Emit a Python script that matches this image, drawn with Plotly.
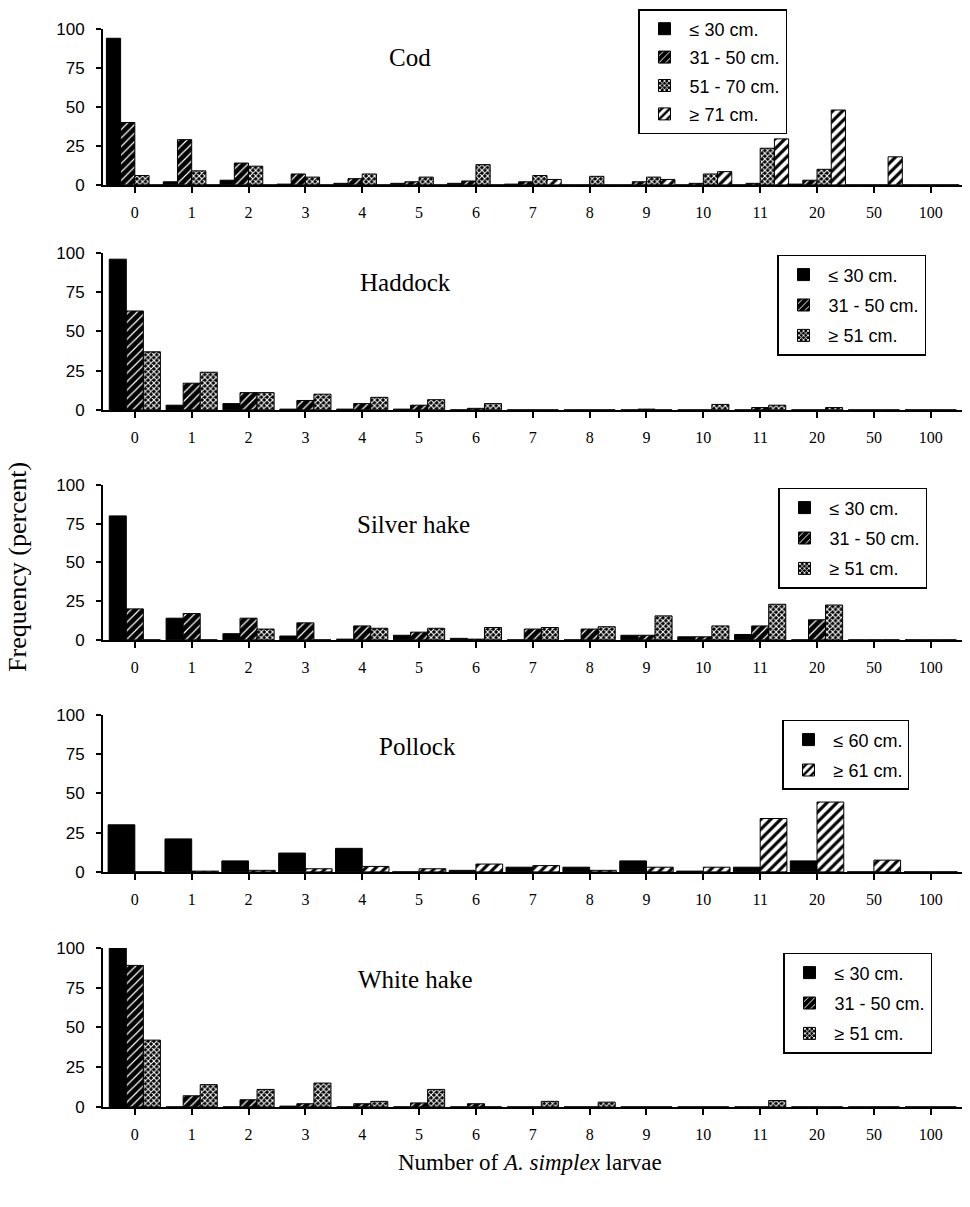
import plotly.graph_objects as go

categories = ["0", "1", "2", "3", "4", "5", "6", "7", "8", "9", "10", "11", "20", "50", "100"]

# Cod
cod_le30 = [94, 2, 3, 0.5, 1, 1, 1, 0.5, 0, 0, 0, 0, 0.5, 0, 0]
cod_31_50 = [40, 29, 14, 7, 4, 2, 2.5, 2, 0, 2, 1, 1, 3, 0, 0]
cod_51_70 = [6, 9, 12, 5, 7, 5, 13, 6, 5.5, 5, 7, 23.5, 10, 0, 0]
cod_ge71 = [0, 0, 0, 0, 0, 0, 0, 3.5, 0, 3.5, 8.5, 29.5, 48, 18, 0]

# Haddock
had_le30 = [96, 3, 4, 0.5, 0.5, 0.5, 0, 0, 0, 0, 0, 0, 0, 0, 0]
had_31_50 = [63, 17, 11, 6, 4, 3, 1, 0, 0, 0.5, 0, 1.5, 0, 0, 0]
had_ge51 = [37, 24, 11, 10, 8, 6.5, 4, 0, 0, 0, 3.5, 3, 1.5, 0, 0]

# Silver hake
sil_le30 = [80, 14, 4, 2.5, 0.5, 3, 1, 0, 0, 3, 2, 3.5, 0, 0, 0]
sil_31_50 = [20, 17, 14, 11, 9, 5, 0.5, 7, 7, 3, 2, 9, 13, 0, 0]
sil_ge51 = [0, 0, 7, 0, 7.5, 7.5, 8, 8, 8.5, 15.5, 9, 23, 22.5, 0, 0]

# Pollock
pol_le60 = [30, 21, 7, 12, 15, 0, 1, 3, 3, 7, 0.5, 3, 7, 0, 0]
pol_ge61 = [0, 0.5, 1, 2, 3.5, 2, 5, 4, 1, 3, 3, 34, 44.5, 7.5, 0]

# White hake
wh_le30 = [100, 0, 0, 0.5, 0, 0, 0, 0, 0, 0, 0, 0, 0, 0, 0]
wh_31_50 = [89, 7, 4.5, 2, 2, 2.5, 2, 0, 0, 0, 0, 0, 0, 0, 0]
wh_ge51 = [42, 14, 11, 15, 3.5, 11, 0, 3.5, 3, 0, 0, 4, 0, 0, 0]

panel_titles = ["Cod", "Haddock", "Silver hake", "Pollock", "White hake"]
y_ticks = [0, 25, 50, 75, 100]

W, H = 970, 1207
SERIF = "Liberation Serif"
SANS = "Liberation Sans"


def py(y):
    """pixel row (from top) -> paper fraction, slightly stretched about the middle"""
    y2 = 578 + (y - 578) * 1.016
    return 1 - y2 / H


STYLES = {
    "solid": dict(color="black", pattern=dict(shape="")),
    "hatch": dict(color="black", pattern=dict(shape="/", bgcolor="black", fgcolor="white",
                                              size=6, solidity=0.2, fillmode="replace")),
    "stipple": dict(color="black", pattern=dict(shape="x", bgcolor="black", fgcolor="white",
                                                size=4, solidity=0.45, fillmode="replace")),
    "wide": dict(color="white", pattern=dict(shape="/", bgcolor="white", fgcolor="black",
                                             size=7, solidity=0.45, fillmode="replace")),
}

panels = [
    dict(series=[("≤ 30 cm.", cod_le30, "solid"), ("31 - 50 cm.", cod_31_50, "hatch"),
                 ("51 - 70 cm.", cod_51_70, "stipple"), ("≥ 71 cm.", cod_ge71, "wide")],
         y0=185, y100=29, w=0.25, title_xy=(410, 58), leg=(638, 5), gap=2),
    dict(series=[("≤ 30 cm.", had_le30, "solid"), ("31 - 50 cm.", had_31_50, "hatch"),
                 ("≥ 51 cm.", had_ge51, "stipple")],
         y0=410, y100=253, w=0.30, title_xy=(405, 283), leg=(777, 255), gap=4),
    dict(series=[("≤ 30 cm.", sil_le30, "solid"), ("31 - 50 cm.", sil_31_50, "hatch"),
                 ("≥ 51 cm.", sil_ge51, "stipple")],
         y0=640, y100=485, w=0.30, title_xy=(413, 525), leg=(778, 488), gap=4),
    dict(series=[("≤ 60 cm.", pol_le60, "solid"), ("≥ 61 cm.", pol_ge61, "wide")],
         y0=872, y100=715, w=0.47, title_xy=(417, 747), leg=(782, 720), gap=4),
    dict(series=[("≤ 30 cm.", wh_le30, "solid"), ("31 - 50 cm.", wh_31_50, "hatch"),
                 ("≥ 51 cm.", wh_ge51, "stipple")],
         y0=1107, y100=948, w=0.30, title_xy=(415, 980), leg=(783, 953), gap=4),
]

fig = go.Figure()
layout = dict(
    width=W, height=H, margin=dict(l=0, r=0, t=0, b=0),
    paper_bgcolor="white", plot_bgcolor="white", barmode="overlay",
    annotations=[], showlegend=True,
)

x_left, x_right = 103 / W, 962 / W

for i, p in enumerate(panels):
    n = i + 1
    sfx = "" if n == 1 else str(n)
    xa, ya = "x" + sfx, "y" + sfx
    leg = "legend" + sfx
    ns = len(p["series"])
    w = p["w"]
    for k, (name, vals, style) in enumerate(p["series"]):
        st = STYLES[style]
        fig.add_trace(go.Bar(
            x=categories, y=vals, name=name, width=w, offset=-ns * w / 2 + k * w,
            xaxis=xa, yaxis=ya, legend=leg, legendgroup=f"p{n}s{k}",
            marker=dict(color=st["color"], pattern=st["pattern"],
                        line=dict(color="black", width=1)),
            hoverinfo="skip",
        ))
    layout["xaxis" + sfx] = dict(
        domain=[x_left, x_right], anchor=ya, type="category",
        categoryorder="array", categoryarray=categories,
        range=[-0.56, len(categories) - 0.45],
        showline=True, linecolor="black", linewidth=2,
        ticks="outside", ticklen=6, tickwidth=2, tickcolor="black",
        tickfont=dict(family=SERIF, size=16, color="black"),
        ticklabelstandoff=6, showgrid=False, zeroline=False, fixedrange=True,
    )
    layout["yaxis" + sfx] = dict(
        domain=[py(p["y0"]), py(p["y100"])], anchor=xa,
        range=[0, 100], tickvals=y_ticks,
        showline=True, linecolor="black", linewidth=2,
        ticks="outside", ticklen=5, tickwidth=2, tickcolor="black",
        tickfont=dict(family=SANS, size=17, color="black"),
        ticklabelstandoff=8,
        showgrid=False, zeroline=False, fixedrange=True,
    )
    lx, ly = p["leg"]
    layout[leg] = dict(
        x=lx / W, y=min(py(ly), 1.0), xanchor="left", yanchor="top",
        xref="paper", yref="paper",
        bordercolor="black", borderwidth=1.5, bgcolor="white",
        font=dict(family=SANS, size=18, color="black"),
        tracegroupgap=p["gap"], traceorder="grouped", itemclick=False,
        itemwidth=40,
    )
    tx, ty = p["title_xy"]
    layout["annotations"].append(dict(
        text=panel_titles[i], x=tx / W, y=py(ty), xref="paper", yref="paper",
        showarrow=False, xanchor="center", yanchor="middle",
        font=dict(family=SERIF, size=25, color="black"),
    ))

layout["annotations"].append(dict(
    text="Frequency (percent)", x=18 / W, y=py(567), xref="paper", yref="paper",
    showarrow=False, textangle=-90, xanchor="center", yanchor="middle",
    font=dict(family=SERIF, size=26, color="black"),
))
layout["annotations"].append(dict(
    text="Number of <i>A. simplex</i> larvae", x=530 / W, y=py(1163),
    xref="paper", yref="paper", showarrow=False, xanchor="center", yanchor="middle",
    font=dict(family=SERIF, size=23, color="black"),
))

fig.update_layout(**layout)
fig.write_html("out.html", config={"displayModeBar": False},
               post_script="document.body.style.margin='0';document.body.style.padding='0';")
